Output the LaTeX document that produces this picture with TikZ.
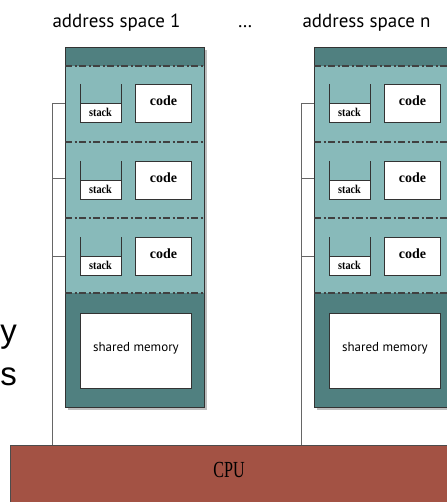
\documentclass[tikz,border=0pt]{standalone}
\usepackage{fontspec}
\setmainfont{Liberation Serif}
\newfontfamily\ptsans{PT Sans}
\newfontfamily\arialf{Liberation Sans}
\begin{document}
\begin{tikzpicture}[x=1pt,y=-1pt,
  outer/.style={draw=black!80, fill=darkteal, line width=0.8pt},
  light/.style={fill=lightteal},
  ddash/.style={draw=black!75, line width=1.2pt, dash pattern=on 7pt off 2.5pt on 2pt off 2.5pt},
  wbox/.style={draw=black!80, fill=white, line width=0.8pt},
  wire/.style={draw=black!60, line width=1pt},
  codet/.style={font=\bfseries\fontsize{14}{14}\selectfont, inner sep=0pt},
  stackt/.style={font=\bfseries\fontsize{12}{12}\selectfont, inner sep=0pt},
  title/.style={font=\ptsans\fontsize{19}{19}\selectfont, inner sep=0pt, anchor=base},
  bigsans/.style={font=\arialf\fontsize{33}{33}\selectfont, anchor=base east, inner sep=0pt}]
\definecolor{darkteal}{RGB}{80,128,128}
\definecolor{lightteal}{RGB}{136,186,186}
\definecolor{cpured}{RGB}{163,82,68}
\useasboundingbox (0,0) rectangle (446,502);
\fill[white] (0,0) rectangle (446,502);

% titles
\node[title] (t1) at (116.5,28) {address space 1};
\node[title] (dots) at (245,28) {\dots};
\node[title] (tn) at (366.5,28) {address space n};

% side text
\node[bigsans] (ty) at (17,342) {y};
\node[bigsans] (ts) at (17,385) {s};

% CPU
\node[draw=black!70, fill=cpured, minimum width=440pt, minimum height=57pt, anchor=north west, inner sep=0pt] (cpu) at (10,445) {};
\node[font=\fontsize{23}{23}\selectfont, inner sep=0pt, anchor=base] (cputxt) at (229,477) {\scalebox{0.7}[1]{CPU}};

\foreach \ox/\nm in {65/L, 314/R}{
  % shadow
  \fill[black!25] (\ox+3,50) rectangle (\ox+142,410);
  \draw[outer] (\ox,47) rectangle (\ox+139,407);
  \fill[light] (\ox,66) rectangle (\ox+139,293);
  \draw[black!80, line width=0.8pt] (\ox,47) rectangle (\ox+139,407);
  \foreach \y in {66,142,218,293}{
    \draw[ddash] (\ox,\y) -- (\ox+139,\y);
  }
  \foreach \r/\yt in {1/84, 2/161, 3/237}{
    % stack
    \fill[white] (\ox+15,\yt+19) rectangle (\ox+56,\yt+38);
    \draw[black!80, line width=0.8pt] (\ox+15,\yt) -- (\ox+15,\yt+38) -- (\ox+56,\yt+38) -- (\ox+56,\yt);
    \draw[black!80, line width=0.8pt] (\ox+15,\yt+19) -- (\ox+56,\yt+19);
    \node[stackt] (stack\nm\r) at (\ox+35.5,\yt+28) {\scalebox{0.85}[1]{stack}};
    \node[wbox, anchor=north west, minimum width=56pt, minimum height=38pt, inner sep=0pt] (code\nm\r) at (\ox+70,\yt) {};
    \node[codet] at ([yshift=3pt]code\nm\r.center) {code};
  }
  \node[wbox, anchor=north west, minimum width=111pt, minimum height=75pt, inner sep=0pt] (shm\nm) at (\ox+15,313) {};
  \node[font=\ptsans\fontsize{13}{13}\selectfont, inner sep=0pt] at ([yshift=3pt]shm\nm.center) {shared memory};
}

% wires
\draw[wire] (52,104) -- (cpu.north west -| 52,0);
\foreach \y in {104,179,256} \draw[wire] (52,\y) -- (65,\y);
\draw[wire] (301,104) -- (cpu.north west -| 301,0);
\foreach \y in {104,179,256} \draw[wire] (301,\y) -- (314,\y);
\end{tikzpicture}
\end{document}
